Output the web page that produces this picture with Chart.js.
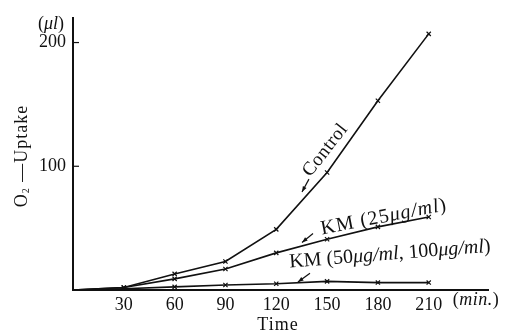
<!DOCTYPE html>
<html>
<head>
<meta charset="utf-8">
<script src="https://cdn.jsdelivr.net/npm/chart.js@4.4.0/dist/chart.umd.min.js"></script>
<style>
  body { margin: 0; background: #fff; }
  #myChart { display: block; }
</style>
</head>
<body>
<canvas id="myChart" width="512" height="335"></canvas>
<script>
// O2 uptake (ul) against time (min)
const times = [0, 30, 60, 90, 120, 150, 180, 210];
const control = [0, 2, 13, 23, 49, 95, 153, 207];
const km25 = [0, 2, 9, 17, 30, 41, 51, 59];
const km50_100 = [0, 1, 2.5, 4, 5, 7, 6, 6];
const xTicks = [30, 60, 90, 120, 150, 180, 210];
const yTicks = [100, 200];

const serif = '"Times New Roman", "Liberation Serif", serif';
const ink = "#111";

function toPoints(values) {
    return times.map((t, i) => ({ x: t, y: values[i] }));
}

// draw a row of text pieces (roman / italic / subscript) centred on cx,cy
function drawRuns(ctx, runs, cx, cy, angle, size, spacing) {
    ctx.save();
    ctx.translate(cx, cy);
    ctx.rotate(angle * Math.PI / 180);
    ctx.letterSpacing = (spacing || 0) + "px";
    ctx.textBaseline = "middle";
    ctx.textAlign = "left";
    ctx.fillStyle = ink;
    const fontOf = (r) => (r.it ? "italic " : "") + (r.s || size) + "px " + serif;
    let total = 0;
    runs.forEach((r) => {
        ctx.font = fontOf(r);
        total += ctx.measureText(r.t).width;
    });
    let x = -total / 2;
    runs.forEach((r) => {
        ctx.font = fontOf(r);
        ctx.fillText(r.t, x, r.dy || 0);
        x += ctx.measureText(r.t).width;
    });
    ctx.restore();
}

function drawArrow(ctx, x1, y1, x2, y2) {
    const a = Math.atan2(y2 - y1, x2 - x1);
    ctx.save();
    ctx.strokeStyle = ink;
    ctx.fillStyle = ink;
    ctx.lineWidth = 1.2;
    ctx.beginPath();
    ctx.moveTo(x1, y1);
    ctx.lineTo(x2, y2);
    ctx.stroke();
    ctx.beginPath();
    ctx.moveTo(x2, y2);
    ctx.lineTo(x2 - 6 * Math.cos(a - 0.35), y2 - 6 * Math.sin(a - 0.35));
    ctx.lineTo(x2 - 6 * Math.cos(a + 0.35), y2 - 6 * Math.sin(a + 0.35));
    ctx.closePath();
    ctx.fill();
    ctx.restore();
}

const labelsPlugin = {
    id: "labels",
    afterDraw(chart) {
        const ctx = chart.ctx;
        const xs = chart.scales.x;
        const ys = chart.scales.y;
        const area = chart.chartArea;
        const px = (v) => xs.getPixelForValue(v);
        const py = (v) => ys.getPixelForValue(v);

        // inward tick marks on the y axis
        ctx.save();
        ctx.strokeStyle = ink;
        ctx.lineWidth = 1.2;
        yTicks.forEach((v) => {
            ctx.beginPath();
            ctx.moveTo(area.left, py(v));
            ctx.lineTo(area.left + 6, py(v));
            ctx.stroke();
        });
        ctx.restore();

        // axis captions
        drawRuns(ctx, [{ t: "(" }, { t: "μl", it: true }, { t: ")" }], area.left - 22, area.top + 6, 0, 18);
        drawRuns(ctx, [{ t: "(" }, { t: "min.", it: true }, { t: ")" }], area.right - 12, area.bottom + 10, 0, 18, 0.5);
        drawRuns(ctx, [{ t: "Time" }], px(121), area.bottom + 35, 0, 18, 1);
        drawRuns(ctx, [{ t: "O" }, { t: "2", s: 10, dy: 4 }, { t: " —Uptake" }], 22, 156, -90, 18, 1);

        // curve names with arrows
        drawRuns(ctx, [{ t: "Control" }], px(149), py(113), -52, 19, 0.5);
        drawArrow(ctx, px(139.3), py(89.6), px(135.2), py(79.2));

        drawRuns(ctx, [{ t: "KM (25" }, { t: "μg/ml", it: true }, { t: ")" }], px(183.6), py(59), -11, 20, 1);
        drawArrow(ctx, px(141.7), py(45.6), px(135.2), py(38.4));

        drawRuns(ctx, [{ t: "KM (50" }, { t: "μg/ml", it: true }, { t: ", 100" }, { t: "μg/ml", it: true }, { t: ")" }],
            px(187.1), py(28.8), -4.5, 20, 0);
        drawArrow(ctx, px(139.9), py(13.6), px(132.8), py(6.4));
    }
};

function series(values) {
    return {
        data: toPoints(values),
        borderColor: ink,
        borderWidth: 1.6,
        pointStyle: "crossRot",
        pointRadius: times.map((t) => (t === 0 ? 0 : 3)),
        pointBorderColor: ink,
        pointBorderWidth: 1.2,
        tension: 0,
        fill: false
    };
}

const ctx = document.getElementById("myChart");
const myChart = new Chart(ctx, {
    type: "line",
    data: {
        datasets: [series(control), series(km25), series(km50_100)]
    },
    options: {
        responsive: false,
        animation: false,
        layout: { padding: { top: 15, right: 24, left: 0, bottom: 0 } },
        plugins: {
            legend: { display: false },
            tooltip: { enabled: false }
        },
        scales: {
            x: {
                type: "linear",
                min: 0,
                max: 245,
                afterBuildTicks: (s) => { s.ticks = xTicks.map((v) => ({ value: v })); },
                afterFit: (s) => { s.height = 45; },
                grid: { display: false, drawTicks: false },
                border: { color: ink, width: 2 },
                ticks: { padding: 4, color: ink, maxRotation: 0, font: { family: serif, size: 18 } }
            },
            y: {
                type: "linear",
                min: 0,
                max: 220,
                afterBuildTicks: (s) => { s.ticks = yTicks.map((v) => ({ value: v })); },
                afterFit: (s) => { s.width = 73; },
                grid: { display: false, drawTicks: false },
                border: { color: ink, width: 2 },
                ticks: { padding: 7, color: ink, font: { family: serif, size: 18 } }
            }
        }
    },
    plugins: [labelsPlugin]
});
</script>
</body>
</html>
